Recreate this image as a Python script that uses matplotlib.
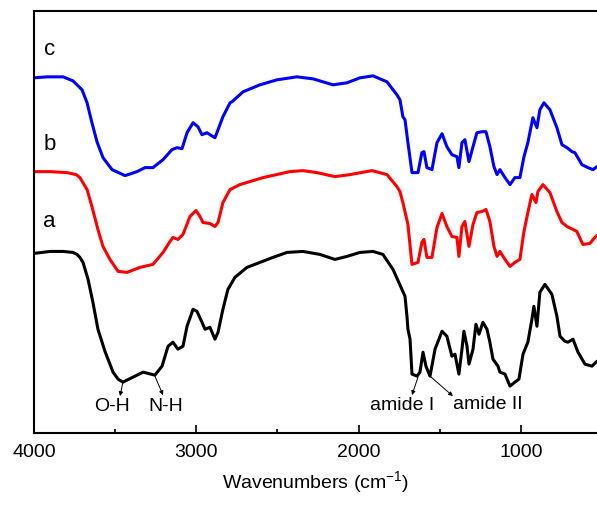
import numpy as np
import matplotlib.pyplot as plt
from matplotlib.ticker import MultipleLocator

plt.rcParams['font.family'] = ['Liberation Sans', 'DejaVu Sans']
plt.rcParams['mathtext.default'] = 'regular'

# FTIR spectra, wavenumber (cm-1) and transmittance (a.u., offset for display)
wn_a = [4000, 3901, 3821, 3760, 3735, 3717, 3698, 3667, 3637, 3606, 3563, 3513, 3482, 3452,
        3390, 3328, 3255, 3211, 3174, 3144, 3113, 3082, 3057, 3020, 2996, 2965, 2946, 2916,
        2885, 2866, 2836, 2805, 2762, 2688, 2608, 2528, 2441, 2343, 2238, 2146, 2072, 1992,
        1911, 1850, 1788, 1733, 1714, 1702, 1696, 1683, 1671, 1640, 1622, 1603, 1585, 1560,
        1529, 1486, 1456, 1425, 1406, 1382, 1363, 1351, 1332, 1320, 1295, 1277, 1258, 1234,
        1209, 1191, 1172, 1141, 1129, 1098, 1067, 1037, 1012, 987, 957, 932, 920, 901, 883,
        852, 809, 778, 759, 729, 710, 679, 648, 605, 562, 531]
t_a = [180, 182, 182, 181, 179, 176, 171, 154, 131, 104, 82, 61, 54, 51,
       56, 61, 58, 67, 87, 91, 84, 87, 107, 124, 122, 111, 104, 106,
       94, 101, 124, 144, 156, 166, 171, 176, 181, 182, 179, 174, 177, 181,
       182, 179, 164, 144, 137, 117, 104, 94, 59, 57, 61, 81, 67, 57,
       84, 102, 97, 77, 79, 59, 84, 102, 87, 69, 84, 109, 99, 111,
       104, 91, 74, 67, 61, 59, 47, 51, 54, 79, 91, 114, 127, 107, 141,
       149, 139, 117, 97, 92, 91, 94, 81, 69, 67, 72]

wn_b = [4000, 3901, 3797, 3740, 3717, 3673, 3643, 3606, 3575, 3532, 3482, 3427, 3347, 3267,
        3205, 3162, 3144, 3113, 3082, 3039, 3002, 2977, 2959, 2916, 2885, 2866, 2836, 2792,
        2731, 2589, 2423, 2343, 2256, 2146, 2053, 1918, 1825, 1764, 1745, 1727, 1696, 1671,
        1634, 1610, 1597, 1579, 1548, 1517, 1486, 1456, 1425, 1394, 1382, 1363, 1345, 1320,
        1295, 1271, 1240, 1215, 1191, 1166, 1147, 1129, 1098, 1067, 1037, 1006, 981, 957,
        932, 907, 895, 864, 821, 778, 747, 716, 679, 655, 618, 575, 544, 531]
t_b = [262, 262, 261, 259, 256, 244, 227, 204, 187, 174, 162, 161, 166, 169,
       181, 192, 196, 194, 199, 217, 223, 217, 211, 210, 207, 211, 231, 244,
       249, 256, 262, 263, 261, 257, 259, 263, 259, 247, 242, 231, 209, 169,
       171, 191, 194, 176, 176, 206, 220, 207, 197, 196, 177, 207, 212, 187,
       209, 221, 222, 224, 212, 187, 177, 182, 174, 167, 171, 174, 202, 221,
       239, 231, 242, 249, 241, 222, 211, 207, 204, 202, 189, 190, 196, 198]

wn_c = [4000, 3920, 3821, 3760, 3704, 3673, 3643, 3612, 3575, 3519, 3439, 3365, 3316, 3267,
        3205, 3150, 3119, 3088, 3057, 3020, 2990, 2965, 2934, 2916, 2885, 2866, 2836, 2792,
        2780, 2712, 2608, 2503, 2380, 2281, 2158, 2072, 1992, 1911, 1825, 1764, 1745, 1727,
        1714, 1696, 1690, 1671, 1634, 1610, 1597, 1579, 1548, 1517, 1486, 1456, 1425, 1394,
        1382, 1363, 1345, 1320, 1295, 1271, 1240, 1215, 1191, 1166, 1147, 1129, 1098, 1067,
        1037, 1006, 981, 957, 926, 901, 883, 858, 821, 778, 747, 716, 685, 667, 624, 587,
        556, 531]
t_c = [356, 357, 357, 353, 344, 331, 311, 292, 276, 264, 258, 262, 266, 266,
       274, 284, 286, 285, 301, 311, 307, 299, 301, 299, 296, 304, 317, 331,
       332, 342, 349, 354, 357, 355, 349, 351, 356, 358, 352, 339, 334, 317,
       314, 291, 284, 261, 261, 281, 282, 266, 264, 291, 300, 287, 279, 277,
       266, 291, 294, 272, 287, 301, 302, 302, 287, 267, 259, 264, 256, 249,
       256, 256, 277, 291, 316, 306, 324, 331, 324, 306, 289, 286, 282, 281, 269, 266,
       264, 267]

curve_labels = ['a', 'b', 'c']
bands = ['O-H', 'N-H', 'amide I', 'amide II']

fig = plt.figure(figsize=(5.97, 5.05), dpi=100)
ax = fig.add_axes([34 / 597, 72 / 505, 1 - 34 / 597, 422 / 505])

line_kw = dict(lw=2.2, solid_joinstyle='round', solid_capstyle='round')
ax.plot(wn_a, t_a, color='black', **line_kw)
ax.plot(wn_b, t_b, color='#ff0000', **line_kw)
ax.plot(wn_c, t_c, color='#0000ff', **line_kw)

ax.set_xlim(4000, 531)
ax.set_ylim(0, 423)
ax.set_yticks([])
ax.xaxis.set_major_locator(MultipleLocator(1000))
ax.xaxis.set_minor_locator(MultipleLocator(500))
ax.tick_params(axis='x', which='major', direction='in', length=6, width=1.2,
               labelsize=14, pad=8)
ax.tick_params(axis='x', which='minor', direction='in', length=3, width=1.2)
ax.spines['right'].set_visible(False)
for s in ['left', 'bottom', 'top']:
    ax.spines[s].set_linewidth(1.5)
ax.set_xlabel('Wavenumbers (cm$^{-1}$)', fontsize=14, labelpad=6)

# curve letters
for lab, y in zip(curve_labels, [201, 279, 374]):
    ax.text(3905, y, lab, fontsize=16, ha='center', va='bottom')

# band annotations: (curve point, arrow end, text centre)
arrow_from = [(3452, 51), (3255, 57), (1634, 56), (1560, 57)]
arrow_to = [(3470, 37), (3205, 38), (1671, 38), (1419, 37)]
text_pos = [(3519, 27), (3190, 27), (1733, 28), (1203, 29)]
for name, p0, p1, tp in zip(bands, arrow_from, arrow_to, text_pos):
    ax.annotate('', xy=p1, xytext=p0,
                arrowprops=dict(arrowstyle='-|>', lw=0.7, color='black',
                                mutation_scale=6, shrinkA=0, shrinkB=0))
    ax.text(tp[0], tp[1], name, fontsize=14, ha='center', va='center')

fig.savefig('out.png', dpi=100)
